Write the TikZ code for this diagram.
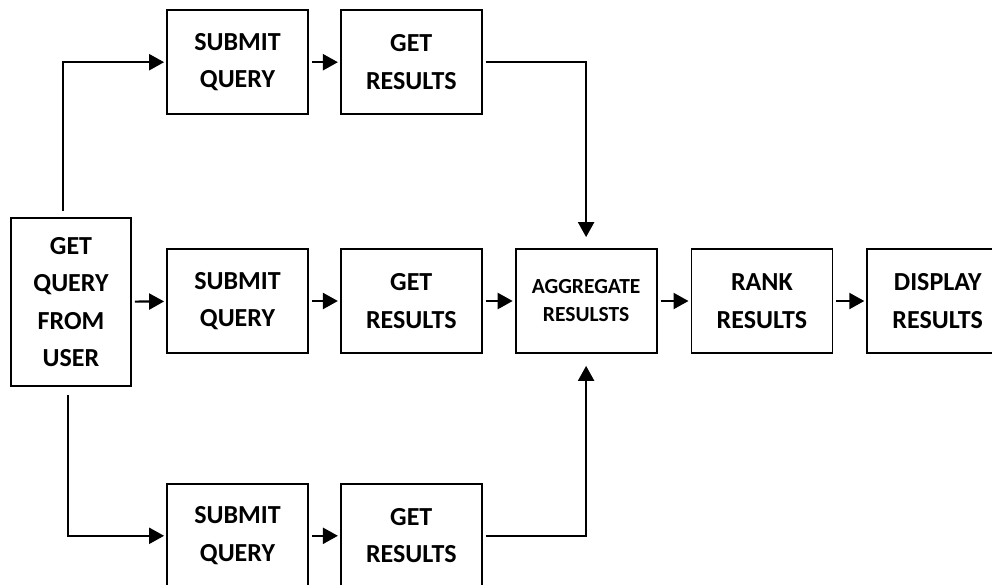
\documentclass[tikz,border=0pt]{standalone}
\usepackage{fontspec}
\setmainfont{Carlito}
\usetikzlibrary{arrows.meta,positioning}
\tikzset{
  blok/.style={draw,line width=1.8pt,minimum width=141pt,minimum height=104pt,inner sep=2pt,
    align=center,font=\fontsize{26}{37.5}\selectfont\bfseries},
  nyil/.style={-{Triangle[length=15pt,width=16pt]},line width=2.2pt,shorten <=3pt,shorten >=2pt},
}

\begin{document}
\begin{tikzpicture}[x=1pt,y=-1pt]
  \useasboundingbox (0,0) rectangle (992,584);
  % middle row
  \node[blok,minimum width=120pt,minimum height=168pt] (user) at (71,302) {GET\\QUERY\\FROM\\USER};
  \node[blok] (sub2) at (237.5,301) {SUBMIT\\QUERY};
  \node[blok,right=31pt of sub2] (get2) {GET\\RESULTS};
  \node[blok,right=32pt of get2,font=\fontsize{21.5}{28}\selectfont\bfseries] (agg) {AGGREGATE\\RESULSTS};
  \node[blok,right=33pt of agg] (rank) {RANK\\RESULTS};
  \node[blok,right=33pt of rank] (disp) {DISPLAY\\RESULTS};
  % upper and lower rows
  \node[blok,above=133pt of sub2] (sub1) {SUBMIT\\QUERY};
  \node[blok,right=31pt of sub1] (get1) {GET\\RESULTS};
  \node[blok,below=129pt of sub2] (sub3) {SUBMIT\\QUERY};
  \node[blok,right=31pt of sub3] (get3) {GET\\RESULTS};

  \foreach \a/\b in {user/sub2,sub2/get2,get2/agg,agg/rank,rank/disp,sub1/get1,sub3/get3}
    \draw[nyil] (\a) -- (\b);
  \draw[nyil,shorten <=6pt] ([xshift=-8pt]user.north) |- (sub1);
  \draw[nyil,shorten <=8pt] ([xshift=-3pt]user.south) |- (sub3);
  \draw[nyil,shorten >=11pt] (get1.east) -| (agg.north);
  \draw[nyil,shorten >=12pt] (get3.east) -| (agg.south);
\end{tikzpicture}
\end{document}
